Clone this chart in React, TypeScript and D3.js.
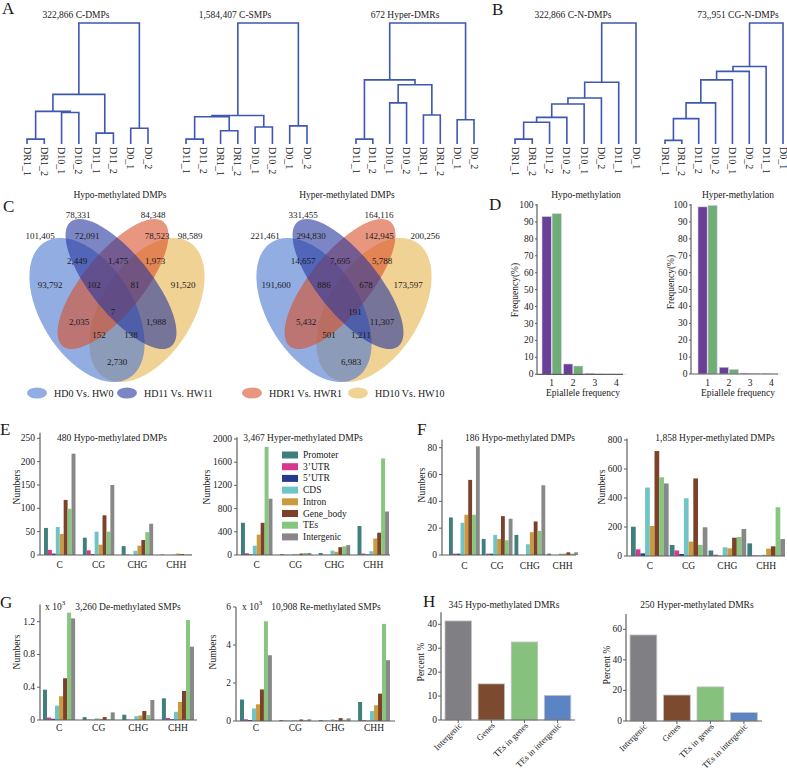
import React from "react";
import * as d3 from "d3";

const FONT = "'Liberation Serif','Times New Roman',Times,serif";
const W = 787;
const H = 773;
const AX = "#5f5f5f";

// ---------------- A / B : dendrograms ----------------
type Tree = string | [Tree, Tree, number];
const dendroTitles = ["322,866 C-DMPs", "1,584,407 C-SMPs", "672 Hyper-DMRs", "322,866 C-N-DMPs", "73,,951 CG-N-DMPs"];
const treeA1: Tree = [[[["DR1_1", "DR1_2", 0.04], ["D10_1", "D10_2", 0.26], 0.27], ["D11_1", "D11_2", 0.09], 0.41], ["D0_1", "D0_2", 0.13], 1];
const treeA2: Tree = [[[["D11_1", "D11_2", 0.04], ["DR1_1", "DR1_2", 0.11], 0.225], ["D10_1", "D10_2", 0.14], 0.235], ["D0_1", "D0_2", 0.15], 1];
const treeA3: Tree = [[["D11_1", "D11_2", 0.04], [["D10_1", "D10_2", 0.34], ["DR1_1", "DR1_2", 0.24], 0.49], 0.53], ["D0_1", "D0_2", 0.2], 1];
const treeB1: Tree = [[[[[[["DR1_1", "DR1_2", 0.04], "D11_2", 0.18], "D10_2", 0.22], "D10_1", 0.33], "D0_2", 0.38], "D11_1", 0.51], "D0_1", 1];
const treeB2: Tree = [[[[[[["DR1_1", "DR1_2", 0.03], "D11_2", 0.21], "D10_2", 0.34], "D10_1", 0.53], "D0_2", 0.6], "D11_1", 0.64], "D0_1", 1];
const trees = [treeA1, treeA2, treeA3, treeB1, treeB2];
const dendroLayout = [
  { x0: 27, x1: 148, tx: 76 },
  { x0: 186, x1: 307, tx: 235 },
  { x0: 356, x1: 474, tx: 405 },
  { x0: 515, x1: 636, tx: 573 },
  { x0: 665, x1: 783, tx: 738 },
];

// ---------------- C : Venn ----------------
const vennSets = ["HD0 Vs. HW0", "HD11 Vs. HW11", "HDR1 Vs. HWR1", "HD10 Vs. HW10"];
const vennTitles = ["Hypo-methylated DMPs", "Hyper-methylated DMPs"];
// order: totals(4), singles(4), 0&11, 11&R1, R1&10, 0&11&R1, 11&R1&10, all, 0&R1, 11&10, 0&R1&10, 0&11&10, 0&10
const hypoCounts = [101405, 78331, 84348, 98589, 93792, 72091, 78523, 91520, 2449, 1475, 1973, 102, 81, 7, 2035, 1988, 152, 138, 2730];
const hyperCounts = [221461, 331455, 164116, 200256, 191600, 294830, 142945, 173597, 14657, 7695, 5788, 886, 678, 191, 5432, 11307, 501, 1211, 6983];

// ---------------- D : epiallele ----------------
const epiCats = ["1", "2", "3", "4"];
const epiSeries = ["a", "b"];
const hypoEpi = [[93.2, 94.9], [6.1, 4.9], [0.5, 0.2], [0.1, 0.05]];
const hyperEpi = [[98.9, 99.8], [4.0, 2.8], [0.5, 0.2], [0.1, 0.05]];
const epiTitles = ["Hypo-methylation", "Hyper-methylation"];

// ---------------- E / F / G : features ----------------
const contexts = ["C", "CG", "CHG", "CHH"];
const features = ["Promoter", "3\u2019UTR", "5\u2019UTR", "CDS", "Intron", "Gene_body", "TEs", "Intergenic"];
const featureColors = ["#3f7f7e", "#d5388d", "#27398e", "#6ec4c6", "#c99a3f", "#7c4128", "#86c67e", "#888888"];
const eHypo = [[58, 11, 3, 60, 45, 118, 99, 217], [37, 10, 2, 50, 22, 85, 50, 150], [19, 1, 0, 9, 20, 32, 49, 67], [1, 0, 0, 1, 3, 2, 1, 1]];
const eHyper = [[555, 30, 10, 160, 350, 555, 1865, 970], [15, 5, 2, 15, 10, 25, 35, 35], [35, 5, 2, 75, 55, 135, 150, 170], [500, 25, 10, 65, 285, 385, 1665, 750]];
const fHypo = [[28, 1, 1, 24, 30, 56, 30, 81], [12, 1, 1, 15, 12, 29, 11, 27], [15, 0, 0, 8, 17, 25, 18, 52], [1, 0, 0, 1, 1, 2, 1, 2]];
const fHyper = [[202, 46, 18, 472, 207, 724, 543, 500], [76, 38, 14, 398, 99, 535, 76, 198], [38, 9, 2, 60, 53, 126, 131, 186], [87, 4, 2, 9, 51, 67, 336, 117]];
const gDe = [[0.37, 0.03, 0.015, 0.175, 0.29, 0.51, 1.31, 1.24], [0.035, 0.005, 0.003, 0.02, 0.015, 0.035, 0.01, 0.093], [0.065, 0.005, 0.002, 0.047, 0.055, 0.11, 0.06, 0.244], [0.265, 0.025, 0.01, 0.1, 0.22, 0.355, 1.22, 0.895]];
const gRe = [[1.13, 0.09, 0.05, 0.66, 0.88, 1.66, 5.25, 3.46], [0.05, 0.02, 0.01, 0.04, 0.03, 0.08, 0.05, 0.09], [0.05, 0.02, 0.01, 0.08, 0.05, 0.15, 0.07, 0.14], [1.0, 0.05, 0.02, 0.52, 0.83, 1.44, 5.11, 3.2]];
const featureTitles = ["480 Hypo-methylated DMPs", "3,467 Hyper-methylated DMPs", "186 Hypo-methylated DMPs", "1,858 Hyper-methylated DMPs", "3,260 De-methylated SMPs", "10,908 Re-methylated SMPs"];
const eHypoTicks = [0, 50, 100, 150, 200, 250];
const eHyperTicks = [0, 400, 800, 1200, 1600, 2000];
const fHypoTicks = [0, 20, 40, 60, 80];
const fHyperTicks = [0, 200, 400, 600, 800];
const gDeTicks = [0, 0.4, 0.8, 1.2];
const gReTicks = [0, 2, 4, 6];

// ---------------- H : DMR regions ----------------
const regionCats = ["Intergenic", "Genes", "TEs in genes", "TEs in intergenic"];
const regionColors = ["#7f7f84", "#7c4a2f", "#86c27d", "#5b84c4"];
const hypoDMR = [41.4, 15.1, 32.6, 10.3];
const hyperDMR = [56.3, 17.0, 22.3, 5.5];
const dmrTitles = ["345 Hypo-methylated DMRs", "250 Hyper-methylated DMRs"];
const hypoDMRTicks = [0, 10, 20, 30, 40];
const hyperDMRTicks = [0, 20, 40, 60];

// ================= components =================
function leavesOf(t: Tree): string[] {
  if (typeof t === "string") return [t];
  return [...leavesOf(t[0]), ...leavesOf(t[1])];
}

function Dendro({ tree, title, lay }: any) {
  const leaves = leavesOf(tree);
  const xs = d3.scalePoint<string>().domain(leaves).range([lay.x0, lay.x1]);
  const ys = d3.scaleLinear().domain([0, 1]).range([144, 23]);
  const paths: string[] = [];
  const walk = (t: Tree): { x: number; y: number } => {
    if (typeof t === "string") return { x: xs(t) as number, y: ys(0) };
    const l = walk(t[0]);
    const r = walk(t[1]);
    const y = ys(t[2]);
    paths.push(`M${l.x},${l.y}V${y}H${r.x}V${r.y}`);
    return { x: (l.x + r.x) / 2, y };
  };
  walk(tree);
  return (
    <g>
      <text x={lay.tx} y={15} textAnchor="middle" dominantBaseline="central" fontSize={9.5}>{title}</text>
      {paths.map((p, i) => (
        <path key={i} d={p} fill="none" stroke="#3d57b3" strokeWidth={1.6} />
      ))}
      {leaves.map((l) => (
        <text key={l} transform={`translate(${xs(l)},147) rotate(90)`} dominantBaseline="central" fontSize={10}>{l}</text>
      ))}
    </g>
  );
}

const vennFill = ["#4a76cf", "#27359f", "#d9502a", "#e8b44f"];
const vennYs = [236, 215, 215, 236, 285, 236, 236, 285, 261, 261, 261, 285, 285, 312, 322, 322, 335, 335, 362];
const vennDx = [
  [-77, -39, 36, 73, -67, -30, 40, 66, -40, 1, 38, -23, 18, -4, -38, 39, -18, 14, 0],
  [-79, -41, 35, 81, -68, -33, 35, 64, -41, -4, 38, -20, 22, 11, -38, 38, -15, 17, 7],
];

function Venn({ cx, counts, title, idx }: any) {
  const fmt = d3.format(",");
  const ell = [
    { i: 3, x: cx + 30, y: 310, rx: 80, ry: 46, r: -58 },
    { i: 0, x: cx - 30, y: 310, rx: 80, ry: 46, r: 58 },
    { i: 2, x: cx - 4, y: 284, rx: 80, ry: 30, r: -51 },
    { i: 1, x: cx + 4, y: 284, rx: 80, ry: 30, r: 51 },
  ];
  return (
    <g>
      <text x={cx + 3} y={195} textAnchor="middle" dominantBaseline="central" fontSize={9.5}>{title}</text>
      {ell.map((e) => (
        <ellipse key={e.i} cx={0} cy={0} rx={e.rx} ry={e.ry} transform={`translate(${e.x},${e.y}) rotate(${e.r})`} fill={vennFill[e.i]} fillOpacity={0.6} />
      ))}
      {counts.map((c: number, k: number) => (
        <text key={k} x={cx + vennDx[idx][k]} y={vennYs[k]} textAnchor="middle" dominantBaseline="central" fontSize={9}>{fmt(c)}</text>
      ))}
    </g>
  );
}

function YAxis({ x, y, ticks, top, fmt, tl = 3, gap = 5 }: any) {
  return (
    <g>
      <line x1={x} x2={x} y1={y(0)} y2={top} stroke={AX} strokeWidth={1.2} />
      {ticks.map((t: number) => (
        <g key={t}>
          <line x1={x - tl} x2={x} y1={y(t)} y2={y(t)} stroke={AX} strokeWidth={1} />
          <text x={x - gap} y={y(t)} textAnchor="end" dominantBaseline="central" fontSize={9.5}>{fmt ? fmt(t) : String(t)}</text>
        </g>
      ))}
    </g>
  );
}

function YLabel({ x, y, text }: any) {
  return (
    <text transform={`translate(${x},${y}) rotate(-90)`} textAnchor="middle" dominantBaseline="central" fontSize={9.5}>{text}</text>
  );
}

function EpiChart({ data, cfg, title }: any) {
  const y = d3.scaleLinear().domain([0, 100]).range([cfg.y0, cfg.y100]);
  const xb = d3.scaleBand<string>().domain(epiCats).range([cfg.b0, cfg.b1]).paddingInner(0.1);
  const xs = d3.scaleBand<string>().domain(epiSeries).range([0, xb.bandwidth()]).paddingInner(0.08);
  const cols = ["#6a3f98", "#6fae77"];
  const ticks = d3.range(0, 101, 10);
  return (
    <g>
      <text x={cfg.tx} y={195} textAnchor="middle" dominantBaseline="central" fontSize={9.5}>{title}</text>
      {data.map((row: number[], i: number) =>
        row.map((v, j) => (
          <rect key={`${i}-${j}`} x={(xb(epiCats[i]) as number) + (xs(epiSeries[j]) as number)} y={y(v)} width={xs.bandwidth()} height={y(0) - y(v)} fill={cols[j]} stroke="#d9d2e6" strokeWidth={0.6} />
        ))
      )}
      <YAxis x={cfg.ax} y={y} ticks={ticks} top={cfg.y100 - 1} tl={2} gap={3.5} />
      <line x1={cfg.ax} x2={cfg.axEnd} y1={y(0)} y2={y(0)} stroke={AX} strokeWidth={1.2} />
      {epiCats.map((c) => (
        <text key={c} x={(xb(c) as number) + xb.bandwidth() / 2} y={y(0) + 9} textAnchor="middle" dominantBaseline="central" fontSize={9.5}>{c}</text>
      ))}
      <text x={cfg.lx} y={393} textAnchor="middle" dominantBaseline="central" fontSize={9.5}>Epiallele frequency</text>
      <YLabel x={cfg.ylx} y={cfg.yly} text="Frequency(%)" />
    </g>
  );
}

function FeatureChart({ data, cfg, title, ticks, fmt, exp }: any) {
  const y = d3.scaleLinear().domain([0, ticks[ticks.length - 1]]).range([cfg.y0, cfg.yTop]);
  const xb = d3.scaleBand<string>().domain(contexts).range([cfg.b0, cfg.b1]).paddingInner(cfg.pad);
  const xs = d3.scaleBand<string>().domain(features).range([0, xb.bandwidth()]);
  return (
    <g>
      <text x={cfg.tx} y={cfg.ty} textAnchor="middle" dominantBaseline="central" fontSize={9.5}>{title}</text>
      {exp && (
        <text x={cfg.ex} y={cfg.ty} dominantBaseline="central" fontSize={9.5}>
          x 10<tspan dy={-4} fontSize={7}>3</tspan>
        </text>
      )}
      {data.map((row: number[], i: number) =>
        row.map((v, j) => (
          <rect key={`${i}-${j}`} x={(xb(contexts[i]) as number) + (xs(features[j]) as number)} y={y(v)} width={xs.bandwidth()} height={Math.max(0, y(0) - y(v))} fill={featureColors[j]} />
        ))
      )}
      <YAxis x={cfg.ax} y={y} ticks={ticks} top={y(cfg.dmax)} fmt={fmt} />
      <line x1={cfg.ax} x2={cfg.axEnd} y1={y(0)} y2={y(0)} stroke={AX} strokeWidth={1.2} />
      {contexts.map((c) => (
        <text key={c} x={(xb(c) as number) + xb.bandwidth() / 2} y={cfg.ly} textAnchor="middle" dominantBaseline="central" fontSize={9.5}>{c}</text>
      ))}
      <YLabel x={cfg.ylx} y={cfg.yly} text="Numbers" />
    </g>
  );
}

function RegionChart({ data, cfg, title, ticks }: any) {
  const y = d3.scaleLinear().domain([0, ticks[ticks.length - 1]]).range([cfg.y0, cfg.yTop]);
  const xb = d3.scaleBand<string>().domain(regionCats).range([cfg.b0, cfg.b1]).paddingInner(0.2);
  return (
    <g>
      <text x={cfg.tx} y={605} textAnchor="middle" dominantBaseline="central" fontSize={9.5}>{title}</text>
      {data.map((v: number, i: number) => (
        <rect key={i} x={xb(regionCats[i]) as number} y={y(v)} width={xb.bandwidth()} height={y(0) - y(v)} fill={regionColors[i]} stroke="#c4c4c4" strokeWidth={0.8} />
      ))}
      <YAxis x={cfg.ax} y={y} ticks={ticks} top={y(cfg.dmax)} gap={4} />
      <line x1={cfg.ax} x2={cfg.axEnd} y1={y(0)} y2={y(0)} stroke={AX} strokeWidth={1.2} />
      {regionCats.map((c) => {
        const cx = (xb(c) as number) + xb.bandwidth() / 2;
        return (
          <g key={c}>
            <line x1={cx} x2={cx} y1={y(0)} y2={y(0) + 3} stroke={AX} />
            <text transform={`translate(${cx + 2},${y(0) + 4}) rotate(-45)`} textAnchor="end" dominantBaseline="central" fontSize={8.7}>{c}</text>
          </g>
        );
      })}
      <YLabel x={cfg.ylx} y={cfg.yly} text="Percent %" />
    </g>
  );
}

const legendIcons = [37, 127, 252, 358];

export default function App() {
  const eCfgL = { ax: 40, axEnd: 192, y0: 555, yTop: 438.3, dmax: 262, b0: 44, b1: 192, pad: 0.19, tx: 112, ty: 438, ly: 565, ylx: 17, yly: 487 };
  const eCfgR = { ax: 237, axEnd: 390, y0: 555, yTop: 439, dmax: 2030, b0: 241, b1: 389, pad: 0.19, tx: 303, ty: 438, ly: 565, ylx: 207, yly: 487 };
  const fCfgL = { ax: 442, axEnd: 576, y0: 555, yTop: 447.7, dmax: 86, b0: 449, b1: 578, pad: 0.06, tx: 520, ty: 438, ly: 566, ylx: 422, yly: 485 };
  const fCfgR = { ax: 627, axEnd: 785, y0: 556, yTop: 440, dmax: 810, b0: 631, b1: 785, pad: 0.03, tx: 715, ty: 438, ly: 566, ylx: 602, yly: 487 };
  const gCfgL = { ax: 40, axEnd: 197, y0: 720, yTop: 621.7, dmax: 1.41, b0: 43, b1: 194, pad: 0.19, tx: 128, ty: 607, ex: 45, ly: 728, ylx: 17, yly: 652 };
  const gCfgR = { ax: 236, axEnd: 395, y0: 721, yTop: 607, dmax: 6, b0: 240, b1: 390, pad: 0.19, tx: 326, ty: 607, ex: 242, ly: 728, ylx: 213, yly: 652 };
  const hCfgL = { ax: 441, axEnd: 575, y0: 720, yTop: 624.3, dmax: 45, b0: 445, b1: 570.8, tx: 504, ylx: 421, yly: 662 };
  const hCfgR = { ax: 626, axEnd: 762, y0: 721, yTop: 629.3, dmax: 70, b0: 630, b1: 757.3, tx: 697, ylx: 607, yly: 665 };
  const dCfgL = { ax: 537, axEnd: 623, y0: 374.3, y100: 205, b0: 542, b1: 626, tx: 586, lx: 583, ylx: 515, yly: 290 };
  const dCfgR = { ax: 691, axEnd: 778, y0: 374, y100: 205, b0: 698, b1: 781, tx: 738, lx: 738, ylx: 671, yly: 282 };

  const letters = [
    { t: "A", x: 2, y: 14 },
    { t: "B", x: 492, y: 15 },
    { t: "C", x: 3, y: 212 },
    { t: "D", x: 489, y: 210 },
    { t: "E", x: 0, y: 435 },
    { t: "F", x: 417, y: 435 },
    { t: "G", x: 0, y: 608 },
    { t: "H", x: 423, y: 607 },
  ];

  return (
    <svg width={W} height={H} style={{ position: "absolute", left: 0, top: 0, background: "#fff" }} fontFamily={FONT} fill="#1a1a1a">
      <rect width={W} height={H} fill="#fff" />
      {letters.map((l) => (
        <text key={l.t} x={l.x} y={l.y} fontSize={17}>{l.t}</text>
      ))}
      {trees.map((t, i) => (
        <Dendro key={i} tree={t} title={dendroTitles[i]} lay={dendroLayout[i]} />
      ))}
      <Venn cx={117} counts={hypoCounts} title={vennTitles[0]} idx={0} />
      <Venn cx={344} counts={hyperCounts} title={vennTitles[1]} idx={1} />
      {vennSets.map((s, i) => (
        <g key={s}>
          <ellipse cx={legendIcons[i]} cy={393} rx={10} ry={5.5} fill={vennFill[i]} fillOpacity={0.6} />
          <text x={legendIcons[i] + 17} y={393} dominantBaseline="central" fontSize={10}>{s}</text>
        </g>
      ))}
      <EpiChart data={hypoEpi} cfg={dCfgL} title={epiTitles[0]} />
      <EpiChart data={hyperEpi} cfg={dCfgR} title={epiTitles[1]} />
      <FeatureChart data={eHypo} cfg={eCfgL} title={featureTitles[0]} ticks={eHypoTicks} />
      <FeatureChart data={eHyper} cfg={eCfgR} title={featureTitles[1]} ticks={eHyperTicks} />
      <FeatureChart data={fHypo} cfg={fCfgL} title={featureTitles[2]} ticks={fHypoTicks} />
      <FeatureChart data={fHyper} cfg={fCfgR} title={featureTitles[3]} ticks={fHyperTicks} />
      <FeatureChart data={gDe} cfg={gCfgL} title={featureTitles[4]} ticks={gDeTicks} exp />
      <FeatureChart data={gRe} cfg={gCfgR} title={featureTitles[5]} ticks={gReTicks} exp />
      {features.map((f, i) => (
        <g key={f}>
          <rect x={282} y={455 + i * 11.7 - 3.5} width={16} height={7} fill={featureColors[i]} />
          <text x={303} y={455 + i * 11.7} dominantBaseline="central" fontSize={9.5}>{f}</text>
        </g>
      ))}
      <RegionChart data={hypoDMR} cfg={hCfgL} title={dmrTitles[0]} ticks={hypoDMRTicks} />
      <RegionChart data={hyperDMR} cfg={hCfgR} title={dmrTitles[1]} ticks={hyperDMRTicks} />
    </svg>
  );
}
